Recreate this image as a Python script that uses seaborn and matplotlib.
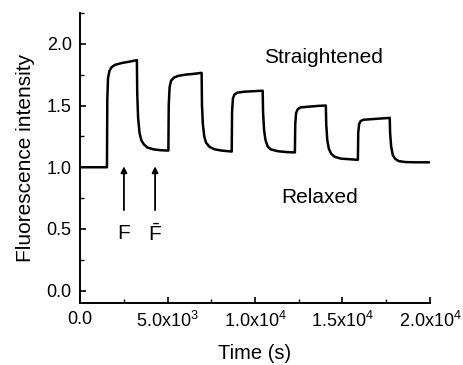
import pandas as pd
import matplotlib
matplotlib.use("Agg")
import matplotlib.pyplot as plt
import matplotlib.ticker as mticker
import seaborn as sns

# ── data: time (s) and relative fluorescence ──
time_s = [
    0, 1540, 1560, 1600, 1680, 1800, 2000, 2400, 2800, 3250,
    3270, 3320, 3400, 3500, 3650, 3850, 4200, 4600, 5050,
    5070, 5120, 5200, 5350, 5600, 6000, 6500, 6950,
    6970, 7020, 7100, 7200, 7400, 7700, 8100, 8670,
    8690, 8740, 8830, 9000, 9400, 10000, 10440,
    10460, 10520, 10600, 10720, 10900, 11300, 11800, 12280,
    12300, 12350, 12440, 12600, 13000, 13600, 14050,
    14070, 14130, 14220, 14350, 14550, 14900, 15400, 15880,
    15900, 15950, 16040, 16200, 16700, 17200, 17700,
    17720, 17780, 17870, 18000, 18200, 18600, 19200, 19950,
]
intensity = [
    1.0, 1.0, 1.55, 1.72, 1.78, 1.81, 1.83, 1.845, 1.855, 1.868,
    1.60, 1.40, 1.28, 1.22, 1.185, 1.16, 1.145, 1.138, 1.135,
    1.50, 1.65, 1.70, 1.725, 1.74, 1.75, 1.757, 1.765,
    1.50, 1.35, 1.25, 1.20, 1.165, 1.145, 1.135, 1.127,
    1.45, 1.56, 1.59, 1.605, 1.612, 1.617, 1.62,
    1.45, 1.30, 1.22, 1.17, 1.145, 1.13, 1.123, 1.12,
    1.35, 1.44, 1.47, 1.485, 1.49, 1.497, 1.50,
    1.35, 1.22, 1.15, 1.11, 1.085, 1.07, 1.065, 1.06,
    1.28, 1.35, 1.375, 1.385, 1.39, 1.395, 1.40,
    1.28, 1.17, 1.10, 1.07, 1.05, 1.042, 1.04, 1.04,
]

x_ticks = [0, 5000, 10000, 15000, 20000]
x_tick_labels = ["0.0", "5.0x10$^3$", "1.0x10$^4$", "1.5x10$^4$", "2.0x10$^4$"]
y_ticks = [0.0, 0.5, 1.0, 1.5, 2.0]

arrow_times = [2510, 4290]
arrow_labels = ["F", r"$\bar{\mathrm{F}}$"]

df = pd.DataFrame({"Time": time_s, "Intensity": intensity})

# ── style ──
sns.set_style("ticks")
plt.rcParams["font.family"] = ["Liberation Sans", "DejaVu Sans"]
plt.rcParams["mathtext.fontset"] = "custom"
plt.rcParams["mathtext.rm"] = "Liberation Sans"
plt.rcParams["mathtext.it"] = "Liberation Sans"
for key in ["text.color", "axes.labelcolor", "xtick.color", "ytick.color",
            "axes.edgecolor"]:
    plt.rcParams[key] = "black"

fig = plt.figure(figsize=(4.63, 3.65), dpi=100)
ax = fig.add_axes([0.1728, 0.1699, 0.7559, 0.7945])

sns.lineplot(data=df, x="Time", y="Intensity", color="black",
             linewidth=1.8, ax=ax, sort=False)

ax.set_xlim(0, 20000)
ax.set_ylim(-0.1, 2.25)
ax.set_xticks(x_ticks)
ax.set_xticklabels(x_tick_labels)
ax.set_yticks(y_ticks)
ax.yaxis.set_major_formatter(mticker.FormatStrFormatter("%.1f"))
ax.xaxis.set_minor_locator(mticker.MultipleLocator(2500))
ax.yaxis.set_minor_locator(mticker.MultipleLocator(0.25))

ax.tick_params(axis="both", which="major", direction="in", length=4,
               width=1.2, labelsize=13, pad=6)
ax.tick_params(axis="both", which="minor", direction="in", length=3, width=1.0)

for side in ["top", "right"]:
    ax.spines[side].set_visible(False)
for side in ["left", "bottom"]:
    ax.spines[side].set_linewidth(1.4)

ax.set_xlabel("Time (s)", fontsize=14.5, labelpad=9)
ax.set_ylabel("Fluorescence intensity", fontsize=15, labelpad=8)

# arrows for F and F-bar
for t, lab in zip(arrow_times, arrow_labels):
    ax.annotate("", xy=(t, 1.03), xytext=(t, 0.63),
                arrowprops=dict(arrowstyle="-|>", color="black", lw=1.3,
                                mutation_scale=9))
    ax.text(t, 0.46, lab, ha="center", va="center", fontsize=15)

ax.text(13900, 1.89, "Straightened", ha="center", va="center", fontsize=15)
ax.text(13700, 0.755, "Relaxed", ha="center", va="center", fontsize=15)

plt.savefig("out.png", dpi=100)
plt.close()
